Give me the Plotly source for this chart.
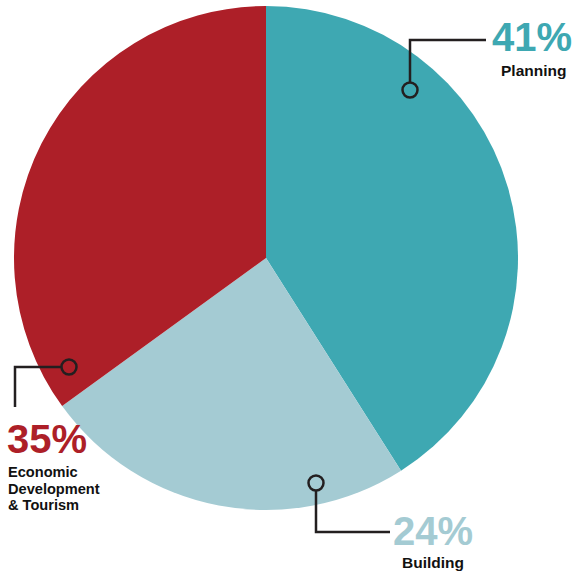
import plotly.graph_objects as go

# Share of work by department
categories = ["Planning", "Building", "Economic Development & Tourism"]
shares = [41, 24, 35]
pct_labels = ["41%", "24%", "35%"]
name_lines = [["Planning"], ["Building"], ["Economic", "Development", "& Tourism"]]

slice_colors = ["#3EA8B2", "#A4CBD3", "#AD1F28"]
line_color = "#231F20"
text_color = "#111111"

W, H = 576, 572


def px(x):
    return x / W


def py(y):
    return 1 - y / H


fig = go.Figure(
    go.Pie(
        labels=categories,
        values=shares,
        sort=False,
        direction="clockwise",
        rotation=0,
        textinfo="none",
        hoverinfo="label+percent",
        marker=dict(colors=slice_colors, line=dict(width=0)),
        domain=dict(x=[px(14), px(518)], y=[py(510), py(6)]),
        showlegend=False,
    )
)

shapes = []
annotations = []


def callout(points, circle):
    cx, cy = circle
    r = 7.5
    path = "M " + " L ".join(f"{px(x)},{py(y)}" for x, y in points)
    shapes.append(dict(type="path", path=path, xref="paper", yref="paper",
                       line=dict(color=line_color, width=2.5)))
    shapes.append(dict(type="circle", xref="paper", yref="paper",
                       x0=px(cx - r), x1=px(cx + r), y0=py(cy + r), y1=py(cy - r),
                       line=dict(color=line_color, width=2.5)))


def text(s, x, y, size, color, xanchor="center"):
    annotations.append(dict(text=s, x=px(x), y=py(y), xref="paper", yref="paper",
                            showarrow=False, xanchor=xanchor, yanchor="middle",
                            font=dict(family="Liberation Sans", size=size, color=color,
                                      weight="bold")))


# Planning
callout([(410, 82.5), (410, 40), (486, 40)], (410, 90))
text(pct_labels[0], 532, 37, 40, slice_colors[0])
text(name_lines[0][0], 533, 70, 15.5, text_color)

# Building
callout([(316, 490.5), (316, 532), (390, 532)], (316, 483))
text(pct_labels[1], 433, 531, 40, slice_colors[1])
text(name_lines[1][0], 433, 562, 15.5, text_color)

# Economic Development & Tourism
callout([(61.5, 367), (15, 367), (15, 407)], (69, 367))
text(pct_labels[2], 5, 439, 40, slice_colors[2], xanchor="left")
for i, line in enumerate(name_lines[2]):
    text(line, 6, 472 + 16.5 * i, 14.6, text_color, xanchor="left")

fig.update_layout(
    width=W, height=H,
    margin=dict(l=0, r=0, t=0, b=0),
    paper_bgcolor="white",
    plot_bgcolor="white",
    shapes=shapes,
    annotations=annotations,
)

fig.write_html("out.html")
